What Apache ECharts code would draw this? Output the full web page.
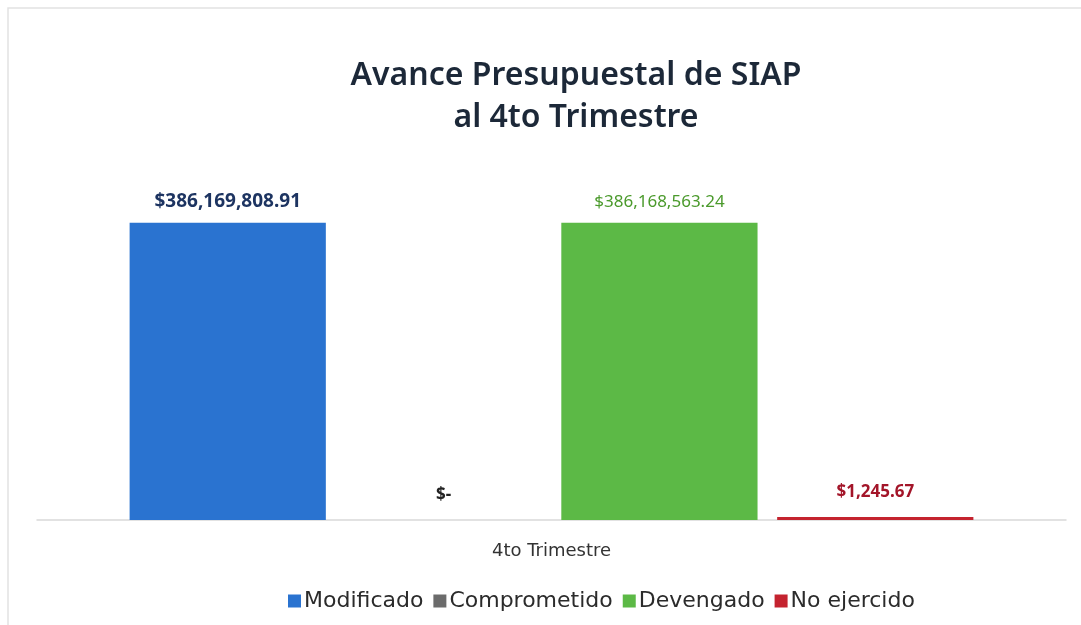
<!DOCTYPE html>
<html>
<head>
<meta charset="utf-8">
<script src="https://cdn.jsdelivr.net/npm/echarts@6/dist/echarts.min.js"></script>
<style>
    html, body { margin: 0; padding: 0; background: #fff; }
    #chartAvance { width: 1081px; height: 625px; }
</style>
</head>
<body>
<div id="chartAvance"></div>
<script>
// data
var categories = ['4to Trimestre'];
var seriesNames = ['Modificado', 'Comprometido', 'Devengado', 'No ejercido'];
var modificado = [386169808.91];
var comprometido = [0];
var devengado = [386168563.24];
var noEjercido = [1245.67];

var barColors = ['#2a73d0', '#6b6b6b', '#5cb946', '#c4232f'];
var labelColors = ['#1d3461', '#222222', '#4b9a2c', '#a31529'];
var labelWeights = ['bold', 'bold', 'normal', 'bold'];
var labelSizes = [19, 17, 17, 17];

function money(v) {
    if (!v) return '$-';
    return '$' + v.toLocaleString('en-US', { minimumFractionDigits: 2, maximumFractionDigits: 2 });
}

function makeSeries(name, data, i) {
    return {
        name: name,
        type: 'bar',
        data: data,
        barGap: '10%',
        barCategoryGap: '18%',
        barMinHeight: i === 3 ? 3 : 0,
        itemStyle: { color: barColors[i] },
        label: {
            show: true,
            position: 'top',
            distance: (i === 1 || i === 3) ? 16 : 12,
            formatter: function (p) { return money(p.value); },
            color: labelColors[i],
            fontFamily: 'Noto Sans',
            fontWeight: labelWeights[i],
            fontSize: labelSizes[i]
        }
    };
}

var myChart = echarts.init(document.getElementById('chartAvance'));
myChart.setOption({
    backgroundColor: '#ffffff',
    animation: false,
    title: {
        text: 'Avance Presupuestal de SIAP\nal 4to Trimestre',
        left: 571,
        textAlign: 'center',
        top: 50,
        textStyle: {
            fontFamily: 'Noto Sans',
            fontSize: 32,
            fontWeight: 600,
            color: '#1c2838',
            lineHeight: 42
        }
    },
    graphic: [{
        type: 'rect',
        shape: { x: 8, y: 8, width: 1090, height: 640 },
        style: { fill: 'none', stroke: '#e2e2e2', lineWidth: 1.5 },
        silent: true
    }],
    legend: {
        bottom: 8,
        left: 283,
        itemWidth: 13,
        itemHeight: 13,
        itemGap: 10,
        icon: 'rect',
        textStyle: {
            fontFamily: 'DejaVu Sans',
            fontSize: 22,
            color: '#2b2b2b',
            padding: [0, 0, 0, -2]
        },
        data: seriesNames
    },
    grid: {
        top: 166,
        left: 37,
        right: 15,
        bottom: 105
    },
    xAxis: {
        type: 'category',
        data: categories,
        axisTick: { show: false },
        axisLine: { lineStyle: { color: '#d9d9d9', width: 1.5 } },
        axisLabel: {
            margin: 22,
            fontFamily: 'DejaVu Sans',
            fontSize: 18,
            color: '#333333'
        }
    },
    yAxis: {
        type: 'value',
        min: 0,
        max: 460000000,
        show: false,
        splitLine: { show: false }
    },
    series: [
        makeSeries(seriesNames[0], modificado, 0),
        makeSeries(seriesNames[1], comprometido, 1),
        makeSeries(seriesNames[2], devengado, 2),
        makeSeries(seriesNames[3], noEjercido, 3)
    ]
});
</script>
</body>
</html>
